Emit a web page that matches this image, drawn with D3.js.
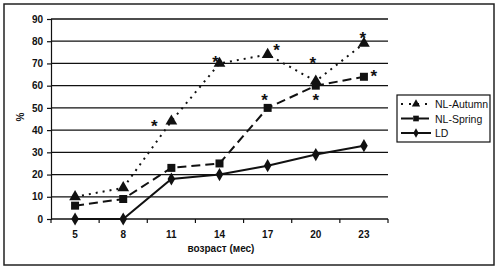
<!DOCTYPE html>
<html>
<head>
<meta charset="utf-8">
<script src="https://cdn.jsdelivr.net/npm/d3@7"></script>
<style>
  body { margin: 0; background: #fff; }
  svg { display: block; font-family: Arial, "Liberation Sans", sans-serif; }
</style>
</head>
<body>
<div id="chart"></div>
<script>
// datos
const ages = ["5", "8", "11", "14", "17", "20", "23"];
const nlAutumn = [10, 14, 44, 70, 74, 62, 79];
const nlSpring = [6, 9, 23, 25, 50, 60, 64];
const ld = [0, 0, 18, 20, 24, 29, 33];
const yTicks = [0, 10, 20, 30, 40, 50, 60, 70, 80, 90];
// asteriscos: [edad, posicion respecto al marcador]
const starsAutumn = [["11", "left"], ["14", "upleft"], ["17", "upright"], ["20", "high"], ["23", "up"]];
const starsSpring = [["17", "upleft2"], ["20", "down"], ["23", "right"]];

const width = 497;
const height = 277;
const margin = { top: 19, right: 109, bottom: 58, left: 51 };
const innerWidth = width - margin.left - margin.right;
const innerHeight = 219 - margin.top;

const svg = d3.select("#chart")
  .append("svg")
  .attr("width", width)
  .attr("height", height);

// marco exterior
svg.append("rect")
  .attr("x", 4).attr("y", 4)
  .attr("width", 490).attr("height", 261)
  .attr("fill", "none")
  .attr("stroke", "#222")
  .attr("stroke-width", 1.5);

const g = svg.append("g")
  .attr("transform", `translate(${margin.left},${margin.top})`);

const xScale = d3.scaleBand()
  .domain(ages)
  .range([0, innerWidth]);

const yScale = d3.scaleLinear()
  .domain([0, 90])
  .range([innerHeight, 0]);

const xc = (a) => xScale(a) + xScale.bandwidth() / 2;

// lineas de cuadricula
g.selectAll(".grid")
  .data(yTicks.slice(1))
  .enter()
  .append("line")
  .attr("x1", 0)
  .attr("x2", innerWidth)
  .attr("y1", (d) => yScale(d))
  .attr("y2", (d) => yScale(d))
  .attr("stroke", "#111")
  .attr("stroke-width", 1.3);

// eje y
const yAxis = d3.axisLeft(yScale).tickValues(yTicks).tickSize(4).tickPadding(4);
g.append("g")
  .call(yAxis)
  .call((s) => s.select(".domain").attr("stroke", "#111").attr("stroke-width", 1.2))
  .call((s) => s.selectAll(".tick line").attr("stroke", "#111").attr("stroke-width", 1.2))
  .selectAll("text")
  .attr("fill", "#111")
  .style("font-size", "10px")
  .style("font-weight", "bold");

// eje x (marcas entre categorias)
g.append("line")
  .attr("x1", 0).attr("x2", innerWidth)
  .attr("y1", innerHeight).attr("y2", innerHeight)
  .attr("stroke", "#111").attr("stroke-width", 1.5);

const bounds = ages.map((a) => xScale(a)).concat([innerWidth]);
g.selectAll(".xtick")
  .data(bounds)
  .enter()
  .append("line")
  .attr("x1", (d) => d).attr("x2", (d) => d)
  .attr("y1", innerHeight).attr("y2", innerHeight + 4)
  .attr("stroke", "#111").attr("stroke-width", 1.2);

g.selectAll(".xlabel")
  .data(ages)
  .enter()
  .append("text")
  .attr("x", (d) => xc(d))
  .attr("y", innerHeight + 19)
  .attr("text-anchor", "middle")
  .attr("fill", "#111")
  .style("font-size", "10px")
  .style("font-weight", "bold")
  .text((d) => d);

// titulos
svg.append("text")
  .attr("x", 221)
  .attr("y", 252)
  .attr("text-anchor", "middle")
  .attr("fill", "#111")
  .style("font-size", "10px")
  .style("font-weight", "bold")
  .text("возраст (мес)");

svg.append("text")
  .attr("transform", "translate(24,117) rotate(-90)")
  .attr("text-anchor", "middle")
  .attr("fill", "#111")
  .style("font-size", "10px")
  .style("font-weight", "bold")
  .text("%");

const line = d3.line()
  .x((d, i) => xc(ages[i]))
  .y((d) => yScale(d));

const series = [
  { name: "NL-Autumn", values: nlAutumn, dash: "2,5", symbol: d3.symbolTriangle, size: 60 },
  { name: "NL-Spring", values: nlSpring, dash: "9,5", symbol: d3.symbolSquare, size: 64 },
  { name: "LD", values: ld, dash: null, symbol: d3.symbolDiamond, size: 50 },
];

series.forEach((s) => {
  g.append("path")
    .datum(s.values)
    .attr("d", line)
    .attr("fill", "none")
    .attr("stroke", "#111")
    .attr("stroke-width", 2)
    .attr("stroke-dasharray", s.dash);

  g.selectAll(null)
    .data(s.values)
    .enter()
    .append("path")
    .attr("d", d3.symbol().type(s.symbol).size(s.size))
    .attr("transform", (d, i) => `translate(${xc(ages[i])},${yScale(d)})`)
    .attr("fill", "#111");
});

// asteriscos de significancia (desplazamiento del centro del asterisco)
const offsets = {
  left: [-17, 1], upleft: [-4, -5], upright: [9, -9], high: [-3, -22], up: [-1, -9],
  upleft2: [-3, -12], down: [0, 10], right: [10, -5],
};
function addStars(list, values) {
  list.forEach(([age, pos]) => {
    const v = values[ages.indexOf(age)];
    const [dx, dy] = offsets[pos];
    g.append("text")
      .attr("x", xc(age) + dx)
      .attr("y", yScale(v) + dy + 10)
      .attr("text-anchor", "middle")
      .attr("fill", "#111")
      .style("font-size", "17px")
      .style("font-weight", "bold")
      .text("*");
  });
}
addStars(starsAutumn, nlAutumn);
addStars(starsSpring, nlSpring);

// leyenda
const legend = svg.append("g").attr("transform", "translate(397,95)");
legend.append("rect")
  .attr("width", 93).attr("height", 47)
  .attr("fill", "#fff")
  .attr("stroke", "#111")
  .attr("stroke-width", 1.2);

series.forEach((s, i) => {
  const ly = 9 + i * 14.5;
  legend.append("line")
    .attr("x1", 4).attr("x2", 34)
    .attr("y1", ly).attr("y2", ly)
    .attr("stroke", "#111")
    .attr("stroke-width", 2)
    .attr("stroke-dasharray", s.dash ? (i === 0 ? "2,6" : "12,4") : null);
  legend.append("path")
    .attr("d", d3.symbol().type(s.symbol).size(s.size * 0.5))
    .attr("transform", `translate(19,${ly})`)
    .attr("fill", "#111");
  legend.append("text")
    .attr("x", 38)
    .attr("y", ly + 4)
    .attr("fill", "#111")
    .style("font-size", "10.5px")
    .text(s.name);
});
</script>
</body>
</html>
